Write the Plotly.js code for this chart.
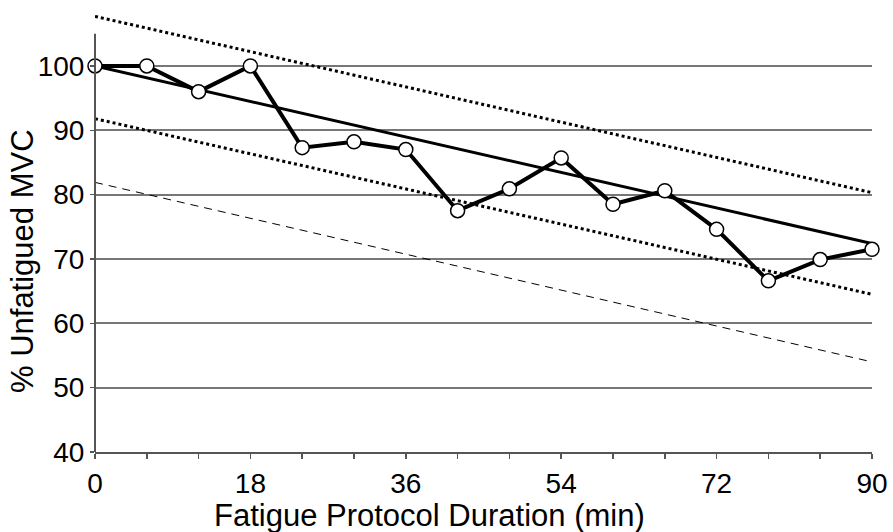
<!DOCTYPE html>
<html>
<head>
<meta charset="utf-8">
<script src="https://cdn.plot.ly/plotly-3.0.1.min.js"></script>
<style>html,body{margin:0;padding:0;background:#fff;}#chart{width:893px;height:532px;}</style>
</head>
<body>
<div id="chart"></div>
<script>
// Data
const timeMin = [0, 6, 12, 18, 24, 30, 36, 42, 48, 54, 60, 66, 72, 78, 84, 90];
const mvcPct = [100, 100, 96.0, 100, 87.3, 88.2, 87.0, 77.5, 80.9, 85.7, 78.5, 80.6, 74.6, 66.6, 69.9, 71.5];
const lineX = [0, 90];
const regression = [100, 72.4];
const upperBand = [107.7, 80.3];
const lowerBand = [91.8, 64.5];
const threshold = [81.9, 54.0];
const xTicks = [0, 18, 36, 54, 72, 90];
const yTicks = [40, 50, 60, 70, 80, 90, 100];
const xTitle = 'Fatigue Protocol Duration (min)';
const yTitle = '% Unfatigued MVC';

const font = 'Liberation Sans, Arial, sans-serif';

const traces = [
  {x: lineX, y: threshold, mode: 'lines', line: {color: '#000', width: 1, dash: '8px,6px'}, hoverinfo: 'skip'},
  {x: lineX, y: upperBand, mode: 'lines', line: {color: '#000', width: 3, dash: 'dot'}, hoverinfo: 'skip'},
  {x: lineX, y: lowerBand, mode: 'lines', line: {color: '#000', width: 3, dash: 'dot'}, hoverinfo: 'skip'},
  {x: lineX, y: regression, mode: 'lines', line: {color: '#000', width: 3}, hoverinfo: 'skip'},
  {x: timeMin, y: mvcPct, mode: 'lines+markers', cliponaxis: false,
   line: {color: '#000', width: 4},
   marker: {symbol: 'circle', size: 14, color: '#fff', line: {color: '#000', width: 1.5}}}
];

const layout = {
  width: 893, height: 532,
  margin: {l: 95, r: 21, t: 8, b: 80},
  paper_bgcolor: '#fff', plot_bgcolor: '#fff',
  showlegend: false,
  font: {family: font, color: '#000', size: 28},
  xaxis: {
    range: [0, 90], tickvals: xTicks, ticktext: xTicks.map(String),
    showgrid: false, zeroline: false,
    showline: true, linecolor: '#555', linewidth: 2,
    ticks: 'outside', ticklen: 5, tickcolor: '#555', tickwidth: 1.5,
    minor: {dtick: 6, tick0: 0, ticks: 'outside', ticklen: 5, tickcolor: '#555', tickwidth: 1.5, showgrid: false},
    tickfont: {size: 28, family: font}
  },
  yaxis: {
    range: [40, 109], tickvals: yTicks, ticktext: yTicks.map(String),
    showgrid: true, gridcolor: '#777', gridwidth: 2,
    zeroline: false, showline: false,
    ticks: 'outside', ticklen: 4, tickcolor: '#555', tickwidth: 1.5,
    tickfont: {size: 28, family: font}
  },
  shapes: [
    {type: 'line', xref: 'paper', yref: 'y', x0: 0, x1: 0, y0: 40, y1: 105, line: {color: '#555', width: 2}}
  ],
  annotations: [
    {text: xTitle, xref: 'paper', yref: 'paper', x: 0.43, y: -0.142, xanchor: 'center', yanchor: 'middle',
     showarrow: false, font: {size: 31, family: font, color: '#000'}},
    {text: yTitle, xref: 'paper', yref: 'paper', x: -0.094, y: 0.43, xanchor: 'center', yanchor: 'middle',
     textangle: -90, showarrow: false, font: {size: 31, family: font, color: '#000'}}
  ]
};

Plotly.newPlot('chart', traces, layout, {displayModeBar: false, staticPlot: true});
</script>
</body>
</html>
